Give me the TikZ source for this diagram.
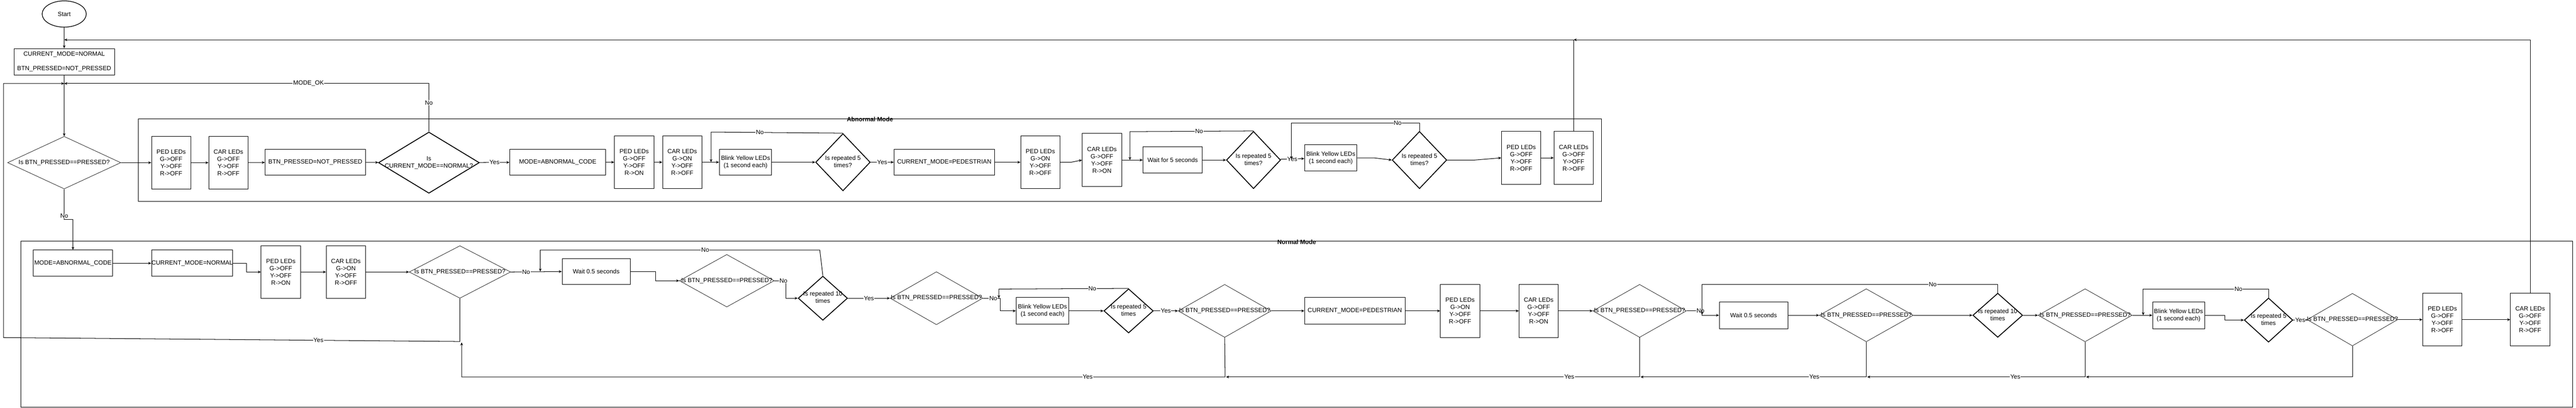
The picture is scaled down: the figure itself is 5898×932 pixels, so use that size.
\documentclass[tikz,border=0pt]{standalone}
\usepackage{fontspec}
\setmainfont{Liberation Sans}
\usetikzlibrary{arrows.meta,shapes.geometric}
\newcommand{\leds}[4]{#1 LEDs\\G->#2\\Y->#3\\R->#4}
\newcommand{\dtxt}[1]{\makebox[0pt]{\begin{tabular}{@{}c@{}}#1\end{tabular}}}
\begin{document}
\begin{tikzpicture}[x=1pt,y=-1pt,
    every node/.style={font=\fontsize{14}{16.5}\selectfont},
    bx/.style 2 args={draw,line width=1.2pt,align=center,inner sep=0pt,minimum width=#1,minimum height=#2},
    dm/.style 2 args={draw,diamond,line width=.8pt,inner sep=0pt,minimum width=#1,minimum height=#2},
    rp/.style 2 args={dm={#1}{#2},line width=2pt},
    arr/.style={-{Stealth[length=7pt,width=6pt]},line width=1.2pt},
    lbl/.style={fill=white,inner sep=1pt},
    ttl/.style={font=\bfseries\fontsize{14}{16.5}\selectfont}]
\useasboundingbox (0,0) rectangle (5898,932);

\draw[line width=1.2pt] (317,272) rectangle (3667,461);
\node[ttl] (abTtl) at (1992,273) {Abnormal Mode};
\draw[line width=1.2pt] (48,552) rectangle (5890,931);
\node[ttl] (nmTtl) at (2969,553) {Normal Mode};

\node[draw,ellipse,line width=1.5pt,minimum width=101,minimum height=60,inner sep=0pt] (start) at (147,32) {Start};
\node[bx={230}{61}] (init) at (147,141.5) {CURRENT\_MODE=NORMAL\\~\\BTN\_PRESSED=NOT\_PRESSED};
\node[dm={259}{120}] (chkBtn) at (147,372) {\dtxt{Is BTN\_PRESSED==PRESSED?}};

\node[bx={90}{120}] (abPedA) at (392,372) {\leds{PED}{OFF}{OFF}{OFF}};
\node[bx={90}{120}] (abCarA) at (523,372) {\leds{CAR}{OFF}{OFF}{OFF}};
\node[bx={230}{60}] (abClr) at (722,371) {BTN\_PRESSED=NOT\_PRESSED};
\node[rp={231}{140}] (abChk) at (982,372) {\dtxt{Is\\CURRENT\_MODE==NORMAL?}};
\node[bx={220}{60}] (abMode) at (1277,371) {MODE=ABNORMAL\_CODE};
\node[bx={90}{121}] (abPedB) at (1452,371) {\leds{PED}{OFF}{OFF}{ON}};
\node[bx={90}{121}] (abCarB) at (1562,371) {\leds{CAR}{ON}{OFF}{OFF}};
\node[bx={120}{60}] (abBlinkA) at (1707,371) {Blink Yellow LEDs\\(1 second each)};
\node[rp={125}{131}] (abRepA) at (1930,371) {\dtxt{Is repeated 5\\times?}};
\node[bx={230}{60}] (abPed) at (2162,371) {CURRENT\_MODE=PEDESTRIAN};
\node[bx={90}{121}] (abPedC) at (2382,371) {\leds{PED}{ON}{OFF}{OFF}};
\node[bx={90}{121}] (abCarC) at (2523,366) {\leds{CAR}{OFF}{OFF}{ON}};
\node[bx={136}{60}] (abWait) at (2685,366) {Wait for 5 seconds};
\node[rp={124}{131}] (abRepB) at (2870,366) {\dtxt{Is repeated 5\\times?}};
\node[bx={120}{60}] (abBlinkB) at (3047,361) {Blink Yellow LEDs\\(1 second each)};
\node[rp={125}{131}] (abRepC) at (3250,366) {\dtxt{Is repeated 5\\times?}};
\node[bx={90}{121}] (abPedD) at (3483,361) {\leds{PED}{OFF}{OFF}{OFF}};
\node[bx={90}{121}] (abCarD) at (3603,361) {\leds{CAR}{OFF}{OFF}{OFF}};

\node[bx={181}{60}] (nmMode) at (167,602) {MODE=ABNORMAL\_CODE};
\node[bx={185}{60}] (nmCur) at (440,602) {CURRENT\_MODE=NORMAL};
\node[bx={90}{121}] (nmPedA) at (643,622) {\leds{PED}{OFF}{OFF}{ON}};
\node[bx={90}{121}] (nmCarA) at (792,622) {\leds{CAR}{ON}{OFF}{OFF}};
\node[dm={232}{120}] (nmChkA) at (1053,622) {\dtxt{Is BTN\_PRESSED==PRESSED?}};
\node[bx={156}{60}] (nmWaitA) at (1365,621) {Wait 0.5 seconds};
\node[dm={217}{120}] (nmChkB) at (1664,642) {\dtxt{Is BTN\_PRESSED==PRESSED?}};
\node[rp={113}{101}] (nmRepA) at (1884,682) {\dtxt{Is repeated 10\\times}};
\node[dm={212}{121}] (nmChkC) at (2144,682) {\dtxt{Is BTN\_PRESSED==PRESSED?}};
\node[bx={121}{61}] (nmBlinkA) at (2387,711) {Blink Yellow LEDs\\(1 second each)};
\node[rp={113}{101}] (nmRepB) at (2584,711) {\dtxt{Is repeated 5\\times}};
\node[dm={213}{121}] (nmChkD) at (2804,711) {\dtxt{Is BTN\_PRESSED==PRESSED?}};
\node[bx={230}{61}] (nmPed) at (3102,711) {CURRENT\_MODE=PEDESTRIAN};
\node[bx={90}{121}] (nmPedB) at (3343,711) {\leds{PED}{ON}{OFF}{OFF}};
\node[bx={90}{121}] (nmCarB) at (3523,711) {\leds{CAR}{OFF}{OFF}{ON}};
\node[dm={214}{121}] (nmChkE) at (3754,711) {\dtxt{Is BTN\_PRESSED==PRESSED?}};
\node[bx={157}{61}] (nmWaitB) at (4015,721) {Wait 0.5 seconds};
\node[dm={215}{121}] (nmChkF) at (4273,721) {\dtxt{Is BTN\_PRESSED==PRESSED?}};
\node[rp={114}{101}] (nmRepC) at (4574,721) {\dtxt{Is repeated 10\\times}};
\node[dm={215}{121}] (nmChkG) at (4774,721) {\dtxt{Is BTN\_PRESSED==PRESSED?}};
\node[bx={119}{61}] (nmBlinkB) at (4988,721) {Blink Yellow LEDs\\(1 second each)};
\node[rp={111}{101}] (nmRepD) at (5194,732) {\dtxt{Is repeated 5\\times}};
\node[dm={207}{120}] (nmChkH) at (5386,731) {\dtxt{Is BTN\_PRESSED==PRESSED?}};
\node[bx={90}{120}] (nmPedC) at (5592,731) {\leds{PED}{OFF}{OFF}{OFF}};
\node[bx={90}{120}] (nmCarC) at (5793,731) {\leds{CAR}{OFF}{OFF}{OFF}};

\coordinate (jTop) at (147,91);
\coordinate (jOk) at (147,191);
\coordinate (jMid) at (3603,91);

\draw[arr] (start) -- (init);
\draw[arr] (init) -- (chkBtn);
\draw[arr] (abCarD.north) |- (jTop);
\draw[arr] (nmCarC.north) |- (jMid);
\draw[arr] (abChk.north) -- node[lbl,pos=.6]{No} (982,191) -- node[lbl,pos=.33]{MODE\_OK} (jOk);
\draw[arr] (nmChkA.south) -- (1053,781) -- node[lbl,pos=.31]{Yes} (8,772) -- (8,191) -- (jOk);

\draw[arr] (chkBtn) -- (abPedA);
\draw[arr] (abPedA) -- (abCarA);
\draw[arr] (abCarA) -- (abClr);
\draw[arr] (abClr) -- (abChk);
\draw[arr] (abChk) -- node[lbl]{Yes} (abMode);
\draw[arr] (abMode) -- (abPedB);
\draw[arr] (abPedB) -- (abCarB);
\draw[arr] (abCarB) -- (abBlinkA);
\draw[arr] (abBlinkA) -- (abRepA);
\draw[arr] (abRepA.north) -- node[lbl,pos=.63]{No} (1628,302) -- (1628,371);
\draw[arr] (abRepA) -- node[lbl]{Yes} (abPed);
\draw[arr] (abPed) -- (abPedC);
\draw[arr] (abPedC.east) -- ++(25,0) -- (abCarC.west);
\draw[arr] (abCarC) -- (abWait);
\draw[arr] (abWait) -- (abRepB);
\draw[arr] (abRepB.north) -- node[lbl,pos=.44]{No} (2587,301) -- (2587,366);
\draw[arr] (abRepB) -- node[lbl]{Yes} (abBlinkB);
\draw[arr] (abRepC.north) -- (3250,281) -- node[lbl,pos=.17]{No} (2957,281) -- (2957,364);
\draw[arr] (abBlinkB.east) -- ++(38,0) -- (abRepC.west);
\draw[arr] (abRepC.east) -- ++(63,0) -- (abPedD.west);
\draw[arr] (abPedD) -- (abCarD);

\draw[arr] (chkBtn.south) -- node[lbl,pos=.88]{No} (147,502) -- (167,502) -- (nmMode.north);
\draw[arr] (nmMode) -- (nmCur);
\draw[arr] (nmCur.east) -- ++(31,0) |- (nmPedA.west);
\draw[arr] (nmPedA) -- (nmCarA);
\draw[arr] (nmCarA) -- (nmChkA);
\draw[arr] (nmChkA.east) -- node[lbl,pos=.3]{No} (nmWaitA.west);
\draw[arr] (nmRepA.north) -- (1877,572) -- node[lbl,pos=.41]{No} (1237,572) -- (1237,621);
\draw[arr] (nmWaitA.east) -- ++(58,0) |- (nmChkB.west);
\draw[arr] (nmChkB.east) -- node[lbl,pos=.8]{No} (1799,642) -- (1799,682) -- (nmRepA.west);
\draw[arr] (nmRepA) -- node[lbl]{Yes} (nmChkC);
\draw[arr] (nmChkC.east) -- node[lbl,pos=.6]{No} (2290,682) -- (2290,711) -- (nmBlinkA.west);
\draw[arr] (nmRepB.north) -- node[lbl,pos=.28]{No} (2287,661) -- (2287,682);
\draw[arr] (nmBlinkA) -- (nmRepB);
\draw[arr] (nmRepB) -- node[lbl]{Yes} (nmChkD);
\draw[arr] (nmChkD) -- (nmPed);
\draw[arr] (nmChkD.south) -- (2805,862) -- node[lbl,pos=.18]{Yes} (1057,862) -- (1057,783);
\draw[arr] (nmPed) -- (nmPedB);
\draw[arr] (nmPedB) -- (nmCarB);
\draw[arr] (nmCarB) -- (nmChkE);
\draw[arr] (nmChkE.south) -- (3754,862) -- node[lbl,pos=.17]{Yes} (2807,862);
\draw[arr] (nmChkE.east) -- node[lbl,pos=.9]{No} (3897,711) -- (3897,721) -- (nmWaitB.west);
\draw[arr] (nmRepC.north) -- (4574,651) -- node[lbl,pos=.22]{No} (3897,651) -- (3897,720);
\draw[arr] (nmWaitB) -- (nmChkF);
\draw[arr] (nmChkF) -- (nmRepC);
\draw[arr] (nmRepC) -- (nmChkG);
\draw[arr] (nmChkG) -- (nmBlinkB);
\draw[arr] (nmChkF.south) -- (4273,862) -- node[lbl,pos=.23]{Yes} (3756,862);
\draw[arr] (nmChkG.south) -- (4774,862) -- node[lbl,pos=.32]{Yes} (4275,862);
\draw[arr] (nmRepD.north) -- (5194,661) -- node[lbl,pos=.24]{No} (4907,661) -- (4907,721);
\draw[arr] (nmBlinkB.east) -- ++(46,0) |- (nmRepD.west);
\draw[arr] (nmRepD) -- node[lbl]{Yes} (nmChkH);
\draw[arr] (nmChkH) -- (nmPedC);
\draw[arr] (nmPedC) -- (nmCarC);
\draw[arr] (nmChkH.south) -- (5386,862) -- (4776,862);
\end{tikzpicture}
\end{document}
